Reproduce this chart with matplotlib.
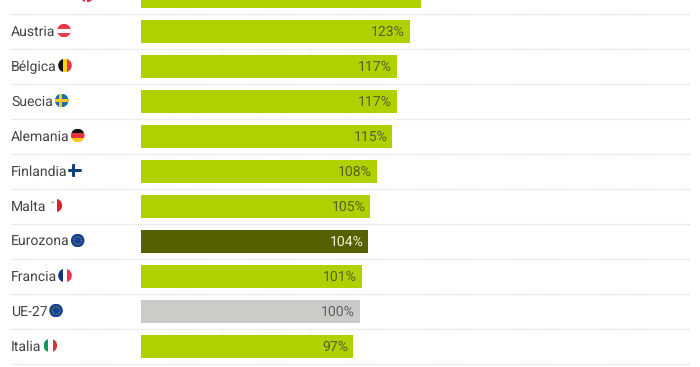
import matplotlib
matplotlib.use('Agg')
import matplotlib.pyplot as plt
from matplotlib.patches import Circle, Rectangle

plt.rcParams['font.family'] = ['Roboto', 'DejaVu Sans']
plt.rcParams['text.hinting'] = 'no_hinting'
plt.rcParams['text.hinting_factor'] = 1

# Data
paises = ['Dinamarca', 'Austria', 'Bélgica', 'Suecia', 'Alemania', 'Finlandia',
          'Malta', 'Eurozona', 'Francia', 'UE-27', 'Italia']
valores = [128, 123, 117, 117, 115, 108, 105, 104, 101, 100, 97]
flag_x = [87, 64, 65, 61.7, 77.7, 75, 55.3, 77.7, 65, 56, 50.3]

GREEN = '#b0d000'
DARK = '#556000'
GREY = '#cbccc7'
colores = {'Eurozona': DARK, 'UE-27': GREY}
txt_col = {'Eurozona': '#f0f2dc', 'UE-27': '#606060'}

W, H = 700, 367
PX_PCT = 2.185   # pixels per percent point
X0 = 141
PITCH = 35
Y0 = -4


def flag(ax, cx, cy, nombre, r=6.8):
    clip = Circle((cx, cy), r, transform=ax.transData)

    def rect(x, y, w, h, c):
        p = Rectangle((cx + x, cy + y), w, h, color=c, lw=0)
        ax.add_patch(p)
        p.set_clip_path(clip)

    if nombre == 'Dinamarca':
        rect(-r, -r, 2 * r, 2 * r, '#e8304a')
        rect(-r, -1, 2 * r, 2, 'white')
        rect(-2.5, -r, 2, 2 * r, 'white')
    elif nombre == 'Austria':
        rect(-r, -r, 2 * r, 2 * r, '#ee3a4e')
        rect(-r, -2, 2 * r, 4, 'white')
    elif nombre == 'Bélgica':
        rect(-r, -r, 4.5, 2 * r, '#111111')
        rect(-2.2, -r, 4.4, 2 * r, '#f7d117')
        rect(2.2, -r, 4.6, 2 * r, '#ee3348')
    elif nombre == 'Suecia':
        rect(-r, -r, 2 * r, 2 * r, '#1f6fae')
        rect(-r, -1.3, 2 * r, 2.6, '#f5c518')
        rect(-2.8, -r, 2.6, 2 * r, '#f5c518')
    elif nombre == 'Alemania':
        rect(-r, -r, 2 * r, 4.5, '#111111')
        rect(-r, -2.2, 2 * r, 4.4, '#e8303c')
        rect(-r, 2.2, 2 * r, 4.6, '#f8c70e')
    elif nombre == 'Finlandia':
        rect(-r, -1.8, 2 * r, 3.6, '#12407f')
        rect(-3.2, -r, 3.6, 2 * r, '#12407f')
    elif nombre == 'Malta':
        rect(1.5, -r, r, 2 * r, '#dd1f2d')
        ax.add_patch(Circle((cx - 2.6, cy - 3.3), 1.3, color='#c9b8a8', lw=0))
    elif nombre in ('Eurozona', 'UE-27'):
        rect(-r, -r, 2 * r, 2 * r, '#12409a')
        ax.add_patch(Circle((cx, cy), 3.8, fill=False, ec='#c9b030', lw=0.6,
                            ls=(0, (1, 1.2))))
    elif nombre == 'Francia':
        rect(-r, -r, 4.5, 2 * r, '#12367f')
        rect(2.2, -r, 4.6, 2 * r, '#ee3348')
    elif nombre == 'Italia':
        rect(-r, -r, 4.5, 2 * r, '#16945a')
        rect(2.2, -r, 4.6, 2 * r, '#d9323f')


fig = plt.figure(figsize=(W / 100, H / 100), dpi=100)
ax = fig.add_axes([0, 0, 1, 1])
ax.set_xlim(-X0 / PX_PCT, (W - X0) / PX_PCT)
ax.set_ylim((H - Y0) / PITCH, (0 - Y0) / PITCH)
ax.axis('off')

# Bars
filas = list(range(len(paises)))
ax.barh(filas, valores, height=23 / PITCH,
        color=[colores.get(p, GREEN) for p in paises], lw=0, zorder=2)

# Dotted separators
trans = ax.get_yaxis_transform()
for i in filas:
    ax.plot([11 / W, 689 / W], [i + 0.5, i + 0.5], transform=trans, color='#d8d8d8',
            lw=0.9, ls=(0, (1, 1.2)), zorder=1)

# Texts
for i, (p, v) in enumerate(zip(paises, valores)):
    ax.annotate(p, xy=(0, i), xytext=(11 - X0, 0), textcoords='offset pixels',
                ha='left', va='center_baseline', fontsize=9.8, color='#444444', zorder=3)
    ax.annotate(f'{v}%', xy=(v, i), xytext=(-5, 0), textcoords='offset pixels',
                ha='right', va='center_baseline', fontsize=9.8,
                color=txt_col.get(p, '#55622a'), zorder=3)

# Flags on a pixel overlay
ov = fig.add_axes([0, 0, 1, 1])
ov.set_xlim(0, W)
ov.set_ylim(H, 0)
ov.axis('off')
ov.patch.set_alpha(0)
for i, (p, fx) in enumerate(zip(paises, flag_x)):
    flag(ov, fx, Y0 + PITCH * i - 0.5, p)

fig.savefig('out.png', dpi=100)
